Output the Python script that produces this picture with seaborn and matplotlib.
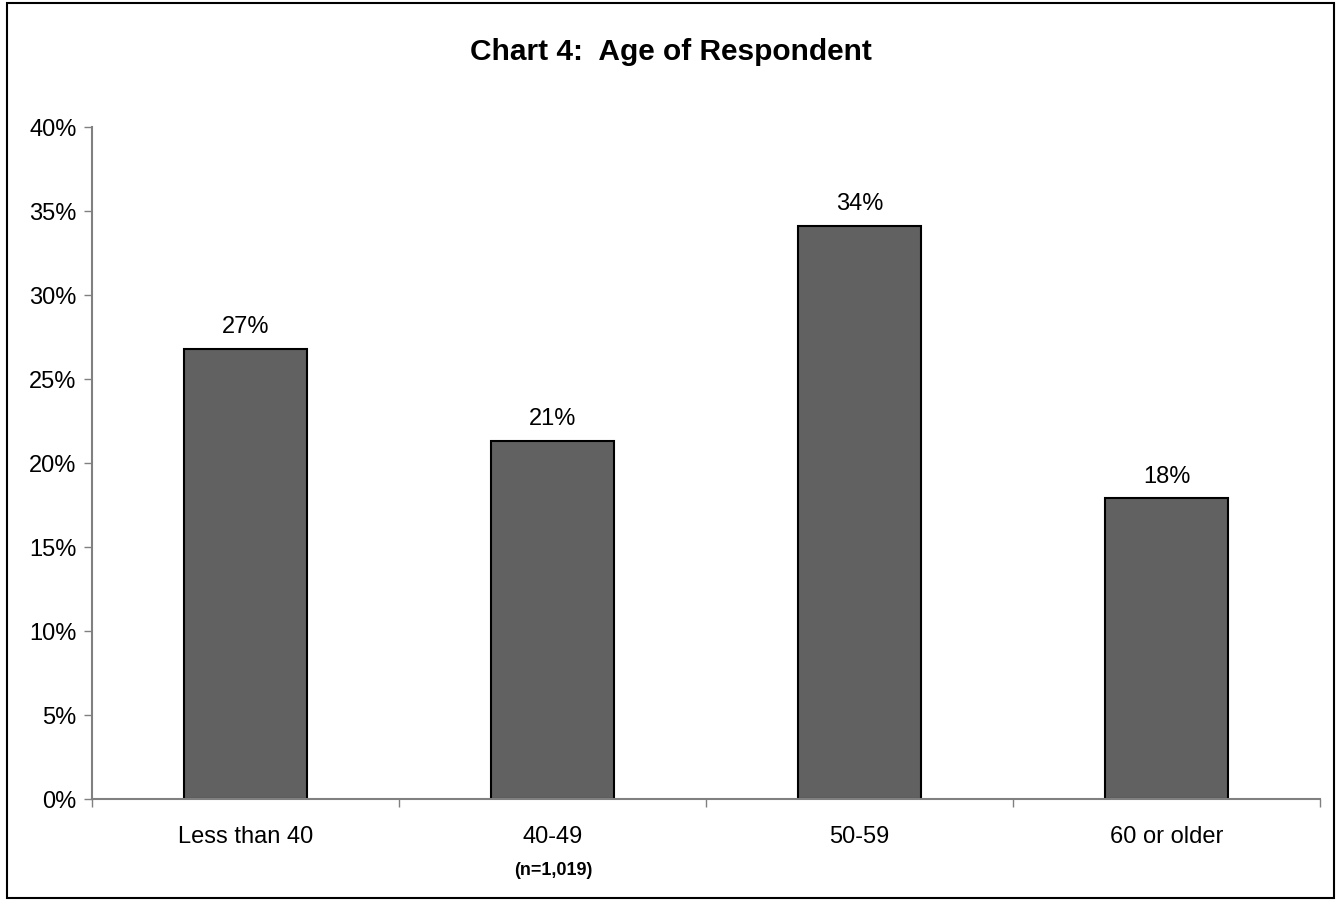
import pandas as pd
import matplotlib
matplotlib.use('Agg')
import matplotlib.pyplot as plt
import seaborn as sns
from matplotlib.patches import Rectangle
from matplotlib.ticker import FixedLocator

# Chart data
categories = ['Less than 40', '40-49', '50-59', '60 or older']
shares = [26.8, 21.3, 34.1, 17.9]
bar_labels = ['27%', '21%', '34%', '18%']
y_ticks = [0, 5, 10, 15, 20, 25, 30, 35, 40]

df = pd.DataFrame({'age': categories, 'share': shares})

sns.set_style('white')
plt.rcParams['font.family'] = ['Liberation Sans', 'DejaVu Sans']
plt.rcParams['text.color'] = 'black'
plt.rcParams['xtick.color'] = 'black'
plt.rcParams['ytick.color'] = 'black'

fig = plt.figure(figsize=(13.41, 9.03), dpi=100)
ax = fig.add_axes([92 / 1341, 103 / 903, 1228 / 1341, 672 / 903])

sns.barplot(data=df, x='age', y='share', color='#616161', width=0.4,
            edgecolor='black', linewidth=1.5, saturation=1, ax=ax)

# Value labels above bars
for i, (v, lab) in enumerate(zip(shares, bar_labels)):
    ax.text(i, v + 0.7, lab, ha='center', va='bottom', fontsize=17)

ax.set_xlim(-0.5, 3.5)
ax.set_ylim(0, 40)
ax.set_yticks(y_ticks)
ax.set_yticklabels([f'{t}%' for t in y_ticks], fontsize=17)
ax.set_xticks(range(len(categories)))
ax.set_xticklabels(categories, fontsize=17)
ax.set_xlabel('')
ax.set_ylabel('')

# Ticks: y major ticks out; x ticks only at category boundaries
ax.tick_params(axis='y', which='major', direction='out', length=6, width=1,
               color='#808080', labelcolor='black', left=True, pad=5)
ax.tick_params(axis='x', which='major', length=0, pad=19, labelcolor='black')
ax.xaxis.set_minor_locator(FixedLocator([-0.5, 0.5, 1.5, 2.5, 3.5]))
ax.tick_params(axis='x', which='minor', direction='out', length=6, width=1,
               color='#808080', bottom=True)

for side in ['top', 'right']:
    ax.spines[side].set_visible(False)
for side in ['left', 'bottom']:
    ax.spines[side].set_color('#808080')
    ax.spines[side].set_linewidth(1.5)

fig.text(0.5, 1 - 52 / 903, 'Chart 4:  Age of Respondent', ha='center',
         va='center', fontsize=21.5, fontweight='bold')
fig.text(553 / 1341, 1 - 871 / 903, '(n=1,019)', ha='center', va='center',
         fontsize=13, fontweight='bold')

# Outer frame
fig.patches.append(Rectangle((7 / 1341, 4 / 903), 1327 / 1341, 895 / 903,
                             transform=fig.transFigure, fill=False,
                             edgecolor='black', linewidth=1.5))

fig.savefig('out.png', dpi=100)
